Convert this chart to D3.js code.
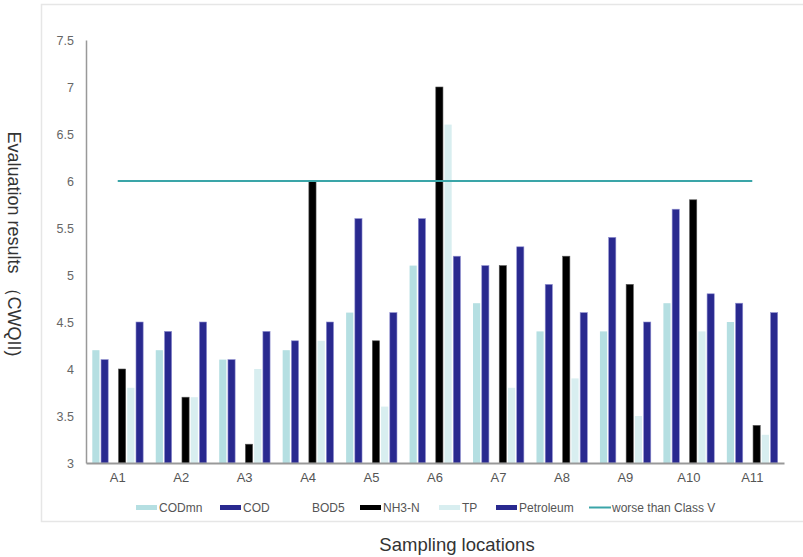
<!DOCTYPE html>
<html><head><meta charset="utf-8">
<script src="https://cdn.jsdelivr.net/npm/d3@7"></script>
<style>body{margin:0;background:#fff;}svg{display:block;font-family:"Liberation Sans",Arial,sans-serif;}</style>
</head><body><svg id="c" width="803" height="557"></svg>
<script>
const categories = ["A1","A2","A3","A4","A5","A6","A7","A8","A9","A10","A11"];
const seriesNames = ["CODmn","COD","BOD5","NH3-N","TP","Petroleum"];
const CODmn     = [4.2,4.2,4.1,4.2,4.6,5.1,4.7,4.4,4.4,4.7,4.5];
const COD       = [4.1,4.4,4.1,4.3,5.6,5.6,5.1,4.9,5.4,5.7,4.7];
const BOD5      = [null,null,null,null,null,null,null,null,null,null,null];
const NH3N      = [4.0,3.7,3.2,6.0,4.3,7.0,5.1,5.2,4.9,5.8,3.4];
const TP        = [3.8,3.7,4.0,4.3,3.6,6.6,3.8,3.9,3.5,4.4,3.3];
const Petroleum = [4.5,4.5,4.4,4.5,4.6,5.2,5.3,4.6,4.5,4.8,4.6];
const threshold = 6;
const thresholdLabel = "worse than Class V";
const yTicks = [3,3.5,4,4.5,5,5.5,6,6.5,7,7.5];
const colors = {"CODmn":"#b5dfe2","COD":"#29298f","BOD5":"#ffffff","NH3-N":"#000000","TP":"#d8eef0","Petroleum":"#29298f"};
const lineColor = "#3aa5a8";

const values = [CODmn, COD, BOD5, NH3N, TP, Petroleum];
const svg = d3.select("#c");

// outer frame
svg.append("rect").attr("x",41.5).attr("y",4.5).attr("width",780).attr("height",517)
  .attr("fill","none").attr("stroke","#e6e6e6").attr("stroke-width",1.5);

const pLeft=86, pRight=784, pTop=40, pBottom=463;
const x0 = d3.scaleBand().domain(categories).range([pLeft,pRight]).paddingInner(0).paddingOuter(0);
const x1 = d3.scaleBand().domain(seriesNames).range([6.3, x0.bandwidth()-6.3]).paddingInner(0.18).paddingOuter(0);
const y = d3.scaleLinear().domain([3,7.5]).range([pBottom,pTop]);

// bars
const rows = [];
categories.forEach((c,i)=>seriesNames.forEach((s,j)=>{ if(values[j][i]!=null) rows.push({c,s,v:values[j][i]}); }));
svg.append("g").selectAll("rect").data(rows).join("rect")
  .attr("x",d=>x0(d.c)+x1(d.s)).attr("width",x1.bandwidth())
  .attr("y",d=>y(d.v)).attr("height",d=>y(3)-y(d.v))
  .attr("fill",d=>colors[d.s])
  .attr("stroke",d=>(d.s==="COD"||d.s==="Petroleum")?"#8f8fd0":(d.s==="NH3-N"?"#555":"none"))
  .attr("stroke-width",0.6);

// y axis
const yAxis = svg.append("g").attr("transform",`translate(${pLeft},0)`)
  .call(d3.axisLeft(y).tickValues(yTicks).tickSize(0).tickPadding(12).tickFormat(d=>String(d)));
yAxis.select(".domain").attr("stroke","#999").attr("stroke-width",1.5);
yAxis.selectAll("text").attr("fill","#666").attr("font-size",12.5);

// x axis
const xAxis = svg.append("g").attr("transform",`translate(0,${pBottom})`)
  .call(d3.axisBottom(x0).tickSize(0).tickPadding(10));
xAxis.select(".domain").attr("stroke","#999").attr("stroke-width",2);
xAxis.selectAll("text").attr("fill","#555").attr("font-size",13);

// threshold line
svg.append("line")
  .attr("x1",x0(categories[0])+x0.bandwidth()/2).attr("x2",x0(categories[categories.length-1])+x0.bandwidth()/2)
  .attr("y1",y(threshold)).attr("y2",y(threshold))
  .attr("stroke",lineColor).attr("stroke-width",2);

// legend
const legendItems = [
  {name:"CODmn",x:136,type:"bar"},
  {name:"COD",x:220,type:"bar"},
  {name:"BOD5",x:289,type:"bar"},
  {name:"NH3-N",x:360,type:"bar"},
  {name:"TP",x:439,type:"bar"},
  {name:"Petroleum",x:496,type:"bar"},
  {name:thresholdLabel,x:589,type:"line"}
];
const lg = svg.append("g");
legendItems.forEach(it=>{
  if(it.type==="bar"){
    lg.append("rect").attr("x",it.x).attr("y",505).attr("width",21).attr("height",5)
      .attr("fill",colors[it.name]);
  } else {
    lg.append("line").attr("x1",it.x).attr("x2",it.x+22).attr("y1",507.5).attr("y2",507.5)
      .attr("stroke",lineColor).attr("stroke-width",2);
  }
  lg.append("text").attr("x",it.x+23).attr("y",512).attr("font-size",12).attr("fill","#555").text(it.name);
});

// axis titles
svg.append("text").attr("x",457).attr("y",551).attr("text-anchor","middle")
  .attr("font-size",18.5).attr("fill","#333").text("Sampling locations");
svg.append("text").attr("transform","translate(8,244) rotate(90)").attr("text-anchor","middle")
  .attr("font-size",18).attr("fill","#333").text("Evaluation results （CWQII)");
</script></body></html>
